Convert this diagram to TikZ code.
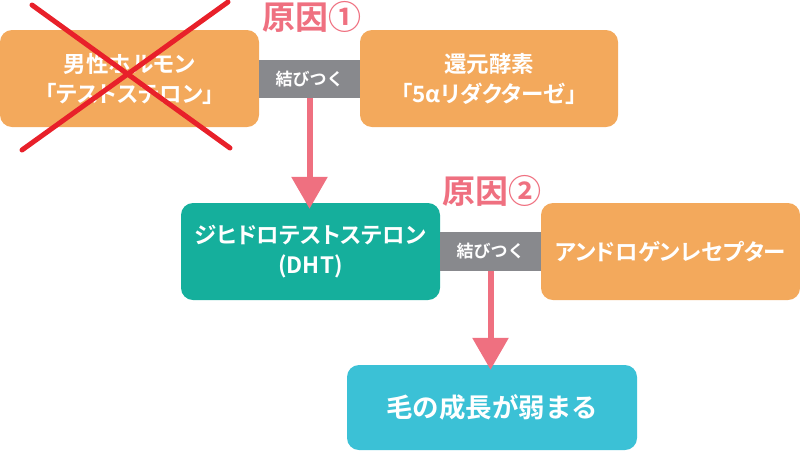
\documentclass[tikz,border=0pt]{standalone}
\usepackage{fontspec}
\setmainfont{Noto Sans CJK JP Bold}
\newfontfamily\paltfont[RawFeature={+palt}]{Noto Sans CJK JP Bold}
\usetikzlibrary{arrows.meta}
\definecolor{boxorange}{HTML}{F3A95C}
\definecolor{boxteal}{HTML}{15AF9C}
\definecolor{boxcyan}{HTML}{3BC1D6}
\definecolor{bargray}{HTML}{88898D}
\definecolor{causepink}{HTML}{EF7080}
\definecolor{crossred}{HTML}{E8202A}
\tikzset{
  box/.style={rectangle, rounded corners=12pt, inner sep=0pt, text=white,
    align=center, font=\paltfont\fontsize{22.5pt}{30pt}\selectfont},
  bar/.style={rectangle, fill=bargray, inner sep=0pt, text=white,
    font=\fontsize{17pt}{20pt}\selectfont},
  cause/.style={text=causepink, inner sep=0pt, font=\fontsize{33pt}{36pt}\selectfont},
  flow/.style={causepink, line width=6pt, -{Triangle[width=35pt,length=32pt]}},
}
\begin{document}
\begin{tikzpicture}[x=1pt,y=-1pt]
\useasboundingbox (0,0) rectangle (800,451);
% boxes
\node[box, fill=boxorange, minimum width=259pt, minimum height=97pt] (male) at (129.5,78.5) {男性ホルモン\\「テストステロン」};
\node[bar, minimum width=101pt, minimum height=38pt] (bind1) at (309.5,79) {結びつく};
\node[box, fill=boxorange, minimum width=258pt, minimum height=97pt] (enzyme) at (489,78.5) {還元酵素\\「5αリダクターゼ」};
\node[cause] (c1) at (312,17) {原因①};
\node[box, fill=boxteal, minimum width=259pt, minimum height=97pt] (dht) at (310.5,251.5) {ジヒドロテストステロン\\(DHT)};
\node[bar, minimum width=101pt, minimum height=39pt] (bind2) at (490.5,251.5) {結びつく};
\node[box, fill=boxorange, minimum width=259pt, minimum height=97pt] (recep) at (670.5,251.5) {アンドロゲンレセプター};
\node[cause] (c2) at (492,191) {原因②};
\node[box, fill=boxcyan, minimum width=290pt, minimum height=85pt, font=\fontsize{26.5pt}{30pt}\selectfont] (hair) at (492,407.5) {毛の成長が弱まる};
% arrows
\coordinate (a1s) at (bind1.south);
\coordinate (a1e) at ([yshift=-6pt]dht.north -| bind1.south);
\draw[flow] (a1s) -- (a1e);
\coordinate (a2e) at ([yshift=-5pt]hair.north -| bind2.south);
\draw[flow] (bind2.south) -- (a2e);
% red cross
\draw[crossred, line width=5pt, line cap=round] (32,5) -- (230,148);
\draw[crossred, line width=5pt, line cap=round] (228,2) -- (22,150);
\end{tikzpicture}
\end{document}
